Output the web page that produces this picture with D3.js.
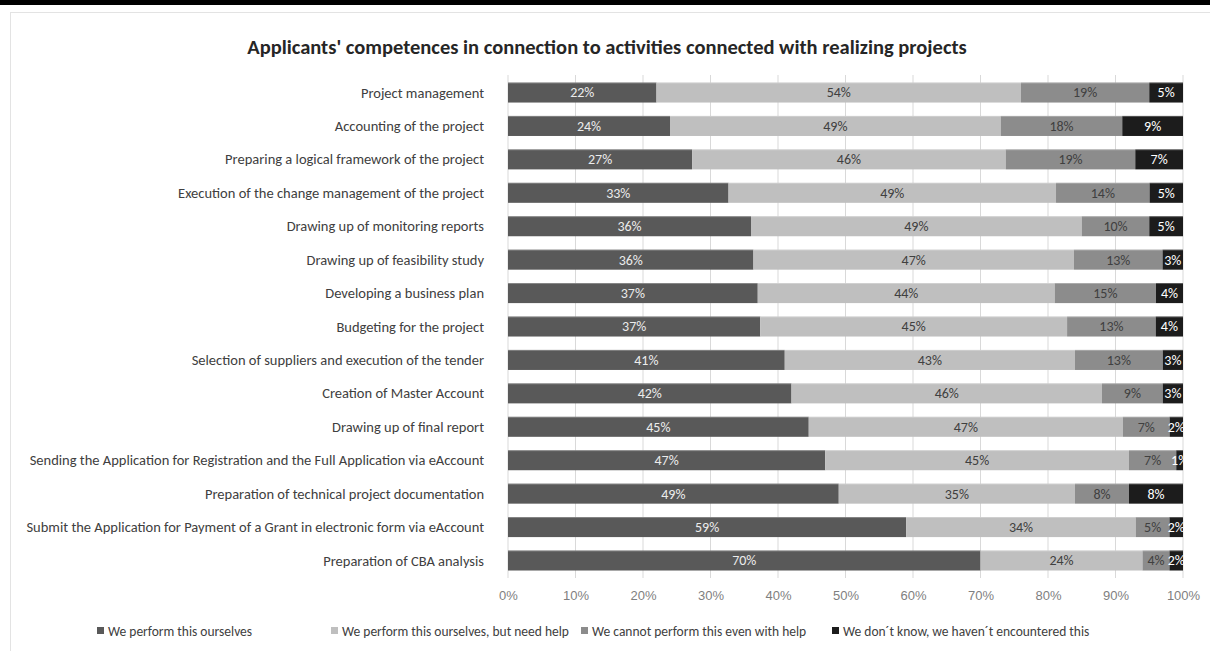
<!DOCTYPE html>
<html>
<head>
<meta charset="utf-8">
<title>Applicants' competences</title>
<script src="https://d3js.org/d3.v7.min.js"></script>
<style>
  body { margin: 0; background: #fff; }
  svg { display: block; font-family: Carlito, Calibri, Lato, "Open Sans", sans-serif; }
  .cat text { font-size: 14.5px; fill: #404040; }
  .xaxis text { font-size: 13px; fill: #7f7f7f; }
  .legend text { font-size: 13.5px; fill: #404040; }
  .title { font-size: 20.5px; font-weight: bold; fill: #262626; }
</style>
</head>
<body>
<svg width="1210" height="651"></svg>
<script>
// categories, top to bottom
const activities = [
  "Project management",
  "Accounting of the project",
  "Preparing a logical framework of the project",
  "Execution of the change management of the project",
  "Drawing up of monitoring reports",
  "Drawing up of feasibility study",
  "Developing a business plan",
  "Budgeting for the project",
  "Selection of suppliers and execution of the tender",
  "Creation of Master Account",
  "Drawing up of final report",
  "Sending the Application for Registration and the Full Application via eAccount",
  "Preparation of technical project documentation",
  "Submit the Application for Payment of a Grant in electronic form via eAccount",
  "Preparation of CBA analysis"
];

const seriesNames = [
  "We perform this ourselves",
  "We perform this ourselves, but need help",
  "We cannot perform this even with help",
  "We don\u00b4t know, we haven\u00b4t encountered this"
];

// percentages per series, same order as activities
const ourselves   = [22, 24, 27, 33, 36, 36, 37, 37, 41, 42, 45, 47, 49, 59, 70];
const needHelp    = [54, 49, 46, 49, 49, 47, 44, 45, 43, 46, 47, 45, 35, 34, 24];
const cannot      = [19, 18, 19, 14, 10, 13, 15, 13, 13,  9,  7,  7,  8,  5,  4];
const dontKnow    = [ 5,  9,  7,  5,  5,  3,  4,  4,  3,  3,  2,  1,  8,  2,  2];

const xTicks = [0, 0.1, 0.2, 0.3, 0.4, 0.5, 0.6, 0.7, 0.8, 0.9, 1];

const colors = ["#595959", "#bfbfbf", "#8c8c8c", "#1c1c1c"];
const labelColors = ["#ececec", "#404040", "#404040", "#ffffff"];

const rows = activities.map((a, i) => ({
  activity: a, s0: ourselves[i], s1: needHelp[i], s2: cannot[i], s3: dontKnow[i]
}));
const keys = ["s0", "s1", "s2", "s3"];

const svg = d3.select("svg");

// frame
svg.append("rect").attr("x", 0).attr("y", 0).attr("width", 1210).attr("height", 5).attr("fill", "#000");
svg.append("rect").attr("x", 10.5).attr("y", 12.5).attr("width", 1220).attr("height", 660)
  .attr("fill", "none").attr("stroke", "#e3e3e3");

const x = d3.scaleLinear().domain([0, 1]).range([508, 1183]);
const y = d3.scaleBand().domain(activities).range([75.8, 577.2]).paddingInner(0.4).paddingOuter(0.2);

// gridlines
svg.append("g").selectAll("line")
  .data(xTicks)
  .join("line")
  .attr("x1", d => x(d)).attr("x2", d => x(d))
  .attr("y1", 75).attr("y2", 578)
  .attr("stroke", "#d9d9d9");

// title
svg.append("text")
  .attr("class", "title")
  .attr("x", 607).attr("y", 54)
  .attr("text-anchor", "middle")
  .text("Applicants' competences in connection to activities connected with realizing projects");

const stacked = d3.stack().keys(keys).offset(d3.stackOffsetExpand)(rows);

svg.append("defs").append("clipPath").attr("id", "plotclip")
  .append("rect").attr("x", 508).attr("y", 60).attr("width", 676).attr("height", 530);

const layers = svg.append("g").selectAll("g.layer")
  .data(stacked)
  .join("g")
  .attr("class", "layer")
  .attr("fill", (d, i) => colors[i]);

layers.selectAll("rect")
  .data(d => d)
  .join("rect")
  .attr("x", d => x(d[0]))
  .attr("y", d => y(d.data.activity))
  .attr("width", d => x(d[1]) - x(d[0]))
  .attr("height", y.bandwidth());

// subtle bar shading
layers.selectAll("line.hl")
  .data(d => d)
  .join("line")
  .attr("class", "hl")
  .attr("x1", d => x(d[0])).attr("x2", d => x(d[1]))
  .attr("y1", d => y(d.data.activity) + 0.5).attr("y2", d => y(d.data.activity) + 0.5)
  .attr("stroke", "#fff").attr("stroke-opacity", 0.25);

// value labels
const labelG = svg.append("g").attr("clip-path", "url(#plotclip)");
stacked.forEach((layer, i) => {
  labelG.append("g").selectAll("text")
    .data(layer)
    .join("text")
    .attr("x", d => (x(d[0]) + x(d[1])) / 2)
    .attr("y", d => y(d.data.activity) + y.bandwidth() / 2)
    .attr("dy", "0.35em")
    .attr("text-anchor", "middle")
    .style("font-size", "14px")
    .attr("fill", labelColors[i])
    .text(d => d.data[keys[i]] + "%");
});

// category labels
svg.append("g").attr("class", "cat").selectAll("text")
  .data(activities)
  .join("text")
  .attr("x", 484)
  .attr("y", d => y(d) + y.bandwidth() / 2)
  .attr("dy", "0.35em")
  .attr("text-anchor", "end")
  .text(d => d);

// x axis
const xAxis = d3.axisBottom(x).tickValues(xTicks).tickFormat(d3.format(".0%")).tickSize(0).tickPadding(0);
const gx = svg.append("g").attr("class", "xaxis").attr("transform", "translate(0,591)").call(xAxis);
gx.select(".domain").remove();
gx.selectAll("text").attr("dy", "0.71em");

// legend
const legendX = [97, 331, 581, 832];
const legend = svg.append("g").attr("class", "legend");
seriesNames.forEach((name, i) => {
  const g = legend.append("g").attr("transform", `translate(${legendX[i]},631)`);
  g.append("rect").attr("x", 0).attr("y", -4).attr("width", 7).attr("height", 7).attr("fill", colors[i]);
  g.append("text").attr("x", 11).attr("y", 0).attr("dy", "0.35em").text(name);
});
</script>
</body>
</html>
